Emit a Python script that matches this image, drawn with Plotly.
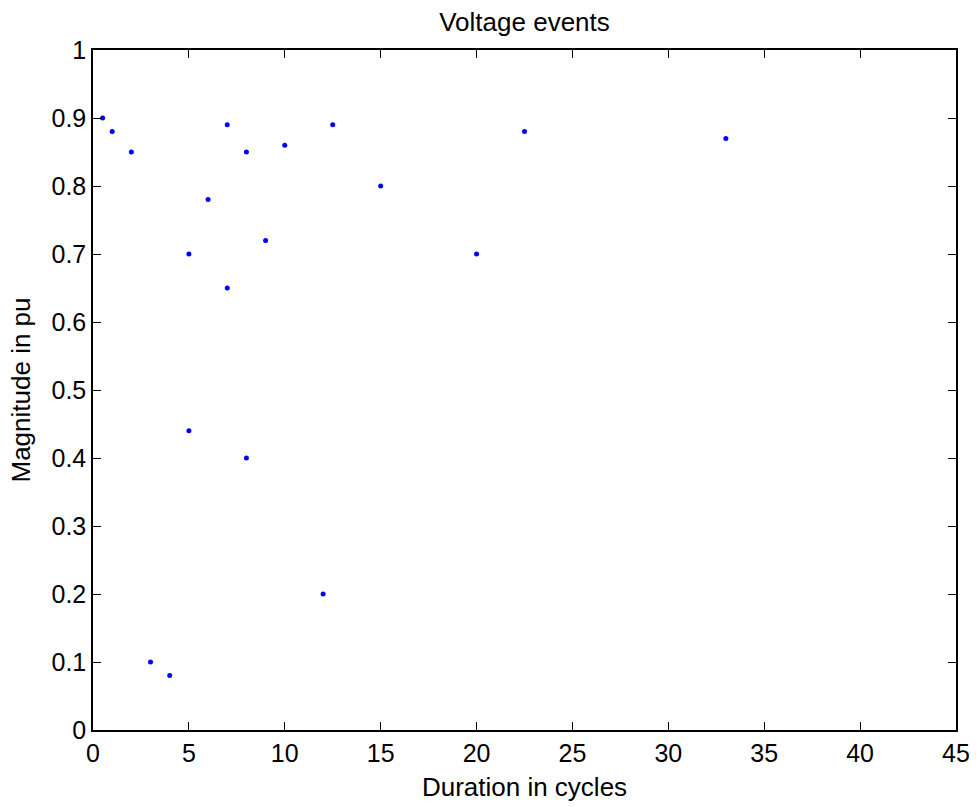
import plotly.graph_objects as go

# Voltage event durations (cycles) and sag magnitudes (pu)
duration_cycles = [0.5, 1, 2, 3, 4, 5, 5, 6, 7, 7, 8, 8, 9, 10, 12, 12.5, 15, 20, 22.5, 33]
magnitude_pu = [0.90, 0.88, 0.85, 0.10, 0.08, 0.70, 0.44, 0.78, 0.89, 0.65,
                0.85, 0.40, 0.72, 0.86, 0.20, 0.89, 0.80, 0.70, 0.88, 0.87]

x_ticks = [0, 5, 10, 15, 20, 25, 30, 35, 40, 45]
y_ticks = [0, 0.1, 0.2, 0.3, 0.4, 0.5, 0.6, 0.7, 0.8, 0.9, 1]
y_tick_text = ["0", "0.1", "0.2", "0.3", "0.4", "0.5", "0.6", "0.7", "0.8", "0.9", "1"]

font_family = "Liberation Sans, Arial, sans-serif"

fig = go.Figure(
    go.Scatter(
        x=duration_cycles,
        y=magnitude_pu,
        mode="markers",
        marker=dict(color="#0000ff", size=5, line=dict(width=0)),
        hoverinfo="x+y",
    )
)

axis_common = dict(
    showgrid=False,
    zeroline=False,
    showline=True,
    linecolor="black",
    linewidth=1.5,
    mirror="ticks",
    ticks="inside",
    ticklen=8,
    tickwidth=1.2,
    tickcolor="black",
    automargin=False,
    tickfont=dict(family=font_family, size=25, color="black"),
)

fig.update_xaxes(
    range=[0, 45],
    tickvals=x_ticks,
    title=dict(text="Duration in cycles", font=dict(family=font_family, size=26, color="black"), standoff=12),
    **axis_common,
)
fig.update_yaxes(
    range=[0, 1],
    tickvals=y_ticks,
    ticktext=y_tick_text,
    title=dict(text="Magnitude in pu", font=dict(family=font_family, size=26, color="black"), standoff=13),
    **axis_common,
)

fig.update_layout(
    width=976,
    height=807,
    margin=dict(l=93, r=20, t=50, b=77),
    paper_bgcolor="white",
    plot_bgcolor="white",
    showlegend=False,
    title=dict(
        text="Voltage events",
        x=0.5, xanchor="center", xref="paper",
        y=1 - 22 / 807, yanchor="middle",
        font=dict(family=font_family, size=26, color="black"),
    ),
)

fig.write_html("out.html")
